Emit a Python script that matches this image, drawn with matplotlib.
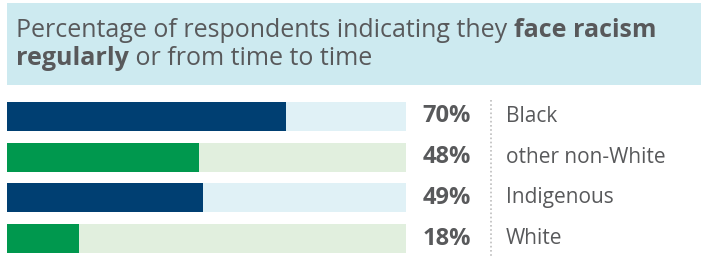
import matplotlib.pyplot as plt
from matplotlib.patches import Rectangle
from matplotlib import transforms

# data
groups = ["Black", "other non-White", "Indigenous", "White"]
values = [70, 48, 49, 18]
fill_colors = ["#003F72", "#00984E", "#003F72", "#00984E"]
track_colors = ["#E0F1F6", "#E1EFDE", "#E0F1F6", "#E1EFDE"]

title_parts_1 = [("Percentage of respondents indicating they ", "normal"), ("face racism", "bold")]
title_parts_2 = [("regularly", "bold"), (" or from time to time", "normal")]

W, H = 701, 256
TEXT = "#58595B"
plt.rcParams["font.family"] = ["Open Sans", "DejaVu Sans"]

fig = plt.figure(figsize=(W / 100, H / 100), dpi=100)


def px(x0, y0, x1, y1):
    # pixel box (top-left origin) -> figure fraction rect
    return [x0 / W, 1 - y1 / H, (x1 - x0) / W, (y1 - y0) / H]


# header band
fig.patches.append(Rectangle((7 / W, 1 - 85 / H), 1, 82 / H, transform=fig.transFigure,
                             facecolor="#CDEAF0", edgecolor="none", zorder=0))

# bars: full-width track + filled value
bar_h = 0.713
ax = fig.add_axes(px(7, 102, 406, 253))
y = range(len(groups))
ax.barh(y, [100] * len(values), height=bar_h, color=track_colors, linewidth=0)
ax.barh(y, values, height=bar_h, color=fill_colors, linewidth=0)
ax.set_xlim(0, 100)
pad = (151 / 40.67 - 3) / 2
ax.set_ylim(len(groups) - 1 + pad, -pad)
ax.axis("off")

# value + group labels (axes-x, data-y)
tr = transforms.blended_transform_factory(ax.transAxes, ax.transData)
ax_w = 406 - 7
for i, (g, v) in enumerate(zip(groups, values)):
    ax.text((471 - 7) / ax_w, i, f"{v}%", transform=tr, ha="right", va="center",
            fontsize=17, fontweight="bold", color=TEXT, clip_on=False)
    ax.text((506 - 7) / ax_w, i, g, transform=tr, ha="left", va="center",
            fontsize=15, color=TEXT, clip_on=False)

# dotted divider
fig.add_artist(plt.Line2D([491 / W, 491 / W], [1 - 100 / H, 0], transform=fig.transFigure,
                          color="#BDBDBD", linestyle=(0, (1, 1.5)), linewidth=1.2))

# title with mixed weights: place pieces one after another
fig.canvas.draw()
r = fig.canvas.get_renderer()
for parts, base in ((title_parts_1, 37), (title_parts_2, 65)):
    x = 16
    for s, w in parts:
        t = fig.text(x / W, 1 - base / H, s, fontsize=18, fontweight=w, color=TEXT,
                     va="baseline", ha="left")
        x += t.get_window_extent(renderer=r).width

fig.savefig("out.png", dpi=100)
